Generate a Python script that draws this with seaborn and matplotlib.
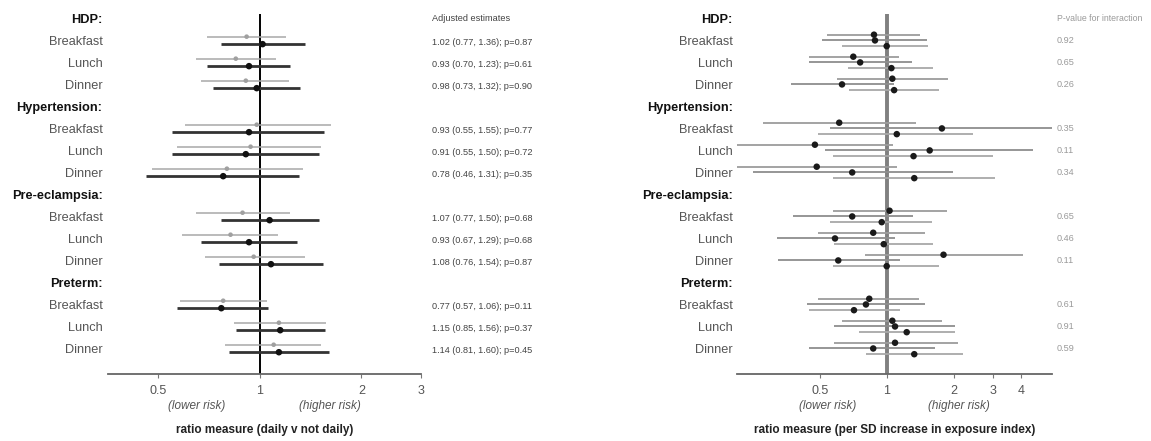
import numpy as np
import pandas as pd
import matplotlib
matplotlib.use("Agg")
import matplotlib.pyplot as plt
import matplotlib.transforms as mtransforms
import seaborn as sns

# ---------------- data ----------------
outcomes = ["HDP", "Hypertension", "Pre-eclampsia", "Preterm"]
meals = ["Breakfast", "Lunch", "Dinner"]

# left panel: unadjusted (grey) and adjusted (dark) ratio estimates
unadj_est = [0.915, 0.85, 0.91, 0.98, 0.94, 0.80, 0.89, 0.82, 0.96, 0.78, 1.14, 1.10]
unadj_lo = [0.70, 0.65, 0.67, 0.60, 0.57, 0.48, 0.65, 0.59, 0.69, 0.58, 0.84, 0.79]
unadj_hi = [1.20, 1.12, 1.22, 1.63, 1.52, 1.34, 1.23, 1.13, 1.36, 1.05, 1.57, 1.52]
adj_est = [1.02, 0.93, 0.98, 0.93, 0.91, 0.78, 1.07, 0.93, 1.08, 0.77, 1.15, 1.14]
adj_lo = [0.77, 0.70, 0.73, 0.55, 0.55, 0.46, 0.77, 0.67, 0.76, 0.57, 0.85, 0.81]
adj_hi = [1.36, 1.23, 1.32, 1.55, 1.50, 1.31, 1.50, 1.29, 1.54, 1.06, 1.56, 1.60]
adj_p = ["0.87", "0.61", "0.90", "0.77", "0.72", "0.35", "0.68", "0.68", "0.87", "0.11", "0.37", "0.45"]

# right panel: three exposure-index estimates per row
r1_est = [0.877, 0.708, 1.06, 0.612, 0.476, 0.485, 1.03, 0.87, 1.80, 0.835, 1.06, 1.09]
r1_lo = [0.537, 0.45, 0.596, 0.279, 0.20, 0.20, 0.576, 0.49, 0.80, 0.49, 0.628, 0.58]
r1_hi = [1.41, 1.13, 1.89, 1.36, 1.07, 1.11, 1.87, 1.49, 4.11, 1.39, 1.77, 2.10]
r2_est = [0.886, 0.76, 0.63, 1.77, 1.56, 0.70, 0.70, 0.586, 0.606, 0.807, 1.09, 0.87]
r2_lo = [0.51, 0.45, 0.37, 0.556, 0.53, 0.25, 0.38, 0.32, 0.326, 0.437, 0.58, 0.45]
r2_hi = [1.51, 1.30, 1.08, 6.00, 4.56, 1.98, 1.31, 1.09, 1.15, 1.49, 2.03, 1.65]
r3_est = [1.00, 1.05, 1.08, 1.11, 1.32, 1.33, 0.95, 0.97, 1.00, 0.713, 1.23, 1.33]
r3_lo = [0.628, 0.672, 0.68, 0.49, 0.572, 0.576, 0.556, 0.58, 0.576, 0.45, 0.75, 0.81]
r3_hi = [1.54, 1.62, 1.71, 2.45, 3.00, 3.07, 1.59, 1.62, 1.71, 1.15, 2.03, 2.21]
p_interaction = ["0.92", "0.65", "0.26", "0.35", "0.11", "0.34", "0.65", "0.46", "0.11", "0.61", "0.91", "0.59"]

left_ticks = [0.5, 1, 2, 3]
right_ticks = [0.5, 1, 2, 3, 4]

# ---------------- layout of rows ----------------
row_labels, row_bold, data_rows = [], [], []
r = 0
for o in outcomes:
    row_labels.append(o + ":")
    row_bold.append(True)
    r += 1
    for m in meals:
        row_labels.append(m)
        row_bold.append(False)
        data_rows.append(r)
        r += 1
data_rows = np.array(data_rows, dtype=float)

sns.set_theme(style="white")
plt.rcParams["font.family"] = ["Liberation Sans", "DejaVu Sans"]

fig = plt.figure(figsize=(11.51, 4.41), dpi=100)
axL = fig.add_axes([108 / 1151, 1 - 374 / 441, (421 - 108) / 1151, (374 - 14) / 441])
axR = fig.add_axes([736.7 / 1151, 1 - 374 / 441, (1051.7 - 736.7) / 1151, (374 - 14) / 441])


def style_axis(ax, xlim, ticks, xlabel, lower_x, higher_x, pad):
    ax.set_xscale("log")
    ax.set_xlim(*xlim)
    ax.set_ylim(16.16, -0.2)
    ax.set_xticks(ticks)
    ax.set_xticklabels([("%g" % t) for t in ticks], fontsize=9, color="#555555")
    ax.xaxis.set_minor_locator(matplotlib.ticker.NullLocator())
    ax.tick_params(axis="x", length=3, width=0.8, color="#777777", pad=5, direction="out", bottom=True)
    ax.set_yticks(range(len(row_labels)))
    ax.set_yticklabels(row_labels, fontsize=9.2)
    for lab, b in zip(ax.get_yticklabels(), row_bold):
        lab.set_fontweight("bold" if b else "normal")
        lab.set_color("#111111" if b else "#555555")
    ax.tick_params(axis="y", length=0, pad=pad)
    ax.set_ylabel("")
    for s in ["top", "right", "left"]:
        ax.spines[s].set_visible(False)
    ax.spines["bottom"].set_color("#666666")
    ax.spines["bottom"].set_linewidth(1.3)
    ax.set_xlabel(xlabel, fontsize=8.5, fontweight="bold", color="#222222")
    ax.xaxis.set_label_coords(0.5, -0.138)
    trans = mtransforms.blended_transform_factory(ax.transData, ax.transAxes)
    ax.text(lower_x, -0.09, "(lower risk)", transform=trans, ha="center", va="center",
            fontsize=8.5, style="italic", color="#555555")
    ax.text(higher_x, -0.09, "(higher risk)", transform=trans, ha="center", va="center",
            fontsize=8.5, style="italic", color="#555555")
    ax.grid(False)


# ---------------- left panel ----------------
dfL = pd.DataFrame({
    "row": np.concatenate([data_rows - 0.17, data_rows + 0.17]),
    "est": unadj_est + adj_est,
    "lo": unadj_lo + adj_lo,
    "hi": unadj_hi + adj_hi,
    "kind": ["Unadjusted"] * 12 + ["Adjusted"] * 12,
})
axL.vlines(1, -0.2, 16.16, color="black", lw=1.4, zorder=2)
for kind, col, lw in [("Unadjusted", "#a8a8a8", 1.1), ("Adjusted", "#333333", 2.0)]:
    d = dfL[dfL.kind == kind]
    axL.hlines(d.row, d.lo, d.hi, color=col, lw=lw, zorder=3)
sns.scatterplot(data=dfL, x="est", y="row", hue="kind", palette={"Unadjusted": "#a0a0a0", "Adjusted": "#111111"},
                size="kind", sizes={"Unadjusted": 11, "Adjusted": 22}, legend=False, ax=axL,
                edgecolor="none", zorder=4)
style_axis(axL, (0.356, 3.0), left_ticks, "ratio measure (daily v not daily)", 0.65, 1.61, 4)
transL = mtransforms.blended_transform_factory(axL.transAxes, axL.transData)
axL.text(1.035, 0, "Adjusted estimates", transform=transL, fontsize=6.6, color="#444444", va="center")
for y, e, lo, hi, p in zip(data_rows, adj_est, adj_lo, adj_hi, adj_p):
    axL.text(1.035, y + 0.1, "%.2f (%.2f, %.2f); p=%s" % (e, lo, hi, p), transform=transL,
             fontsize=6.6, color="#444444", va="center")

# ---------------- right panel ----------------
dfR = pd.DataFrame({
    "row": np.concatenate([data_rows - 0.26, data_rows, data_rows + 0.26]),
    "est": r1_est + r2_est + r3_est,
    "lo": r1_lo + r2_lo + r3_lo,
    "hi": r1_hi + r2_hi + r3_hi,
    "series": ["a"] * 12 + ["b"] * 12 + ["c"] * 12,
})
axR.vlines(1, -0.2, 16.16, color="#808080", lw=2.8, zorder=2)
for s, col in [("a", "#9c9c9c"), ("b", "#8e8e8e"), ("c", "#a8a8a8")]:
    d = dfR[dfR.series == s]
    axR.hlines(d.row, d.lo, d.hi, color=col, lw=1.3, zorder=3)
sns.scatterplot(data=dfR, x="est", y="row", color="#1a1a1a", s=22, edgecolor="none",
                legend=False, ax=axR, zorder=4)
style_axis(axR, (0.212, 5.51), right_ticks, "ratio measure (per SD increase in exposure index)", 0.545, 2.10, 3)
transR = mtransforms.blended_transform_factory(axR.transAxes, axR.transData)
axR.text(1.017, 0, "P-value for interaction", transform=transR, fontsize=6.3, color="#9a9a9a", va="center")
for y, p in zip(data_rows, p_interaction):
    axR.text(1.017, y, p, transform=transR, fontsize=6.6, color="#9a9a9a", va="center")

fig.savefig("out.png", dpi=100)
